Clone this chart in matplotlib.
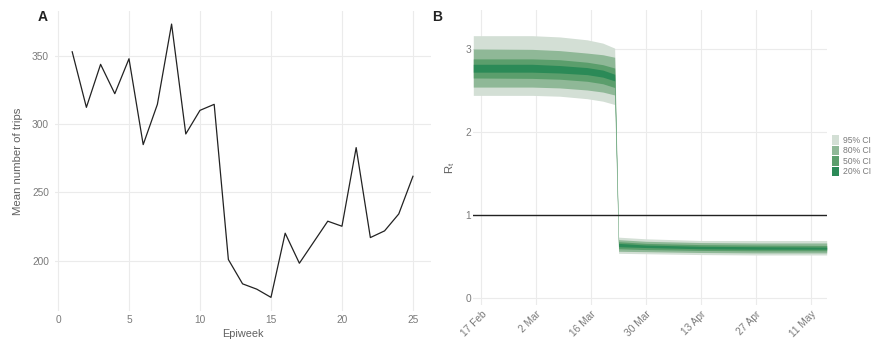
import numpy as np
import pandas as pd
import matplotlib
matplotlib.use("Agg")
import matplotlib.pyplot as plt
import matplotlib.dates as mdates
from matplotlib.patches import Patch

# panel A: mean trips per epiweek
epiweeks = list(range(1, 26))
mean_trips = [352.9, 312.2, 343.7, 322.2, 347.8, 284.9, 314.4, 373.2, 292.7, 310.0,
              314.4, 200.7, 182.9, 179.0, 173.0, 220.0, 198.0, 213.4, 228.8, 225.1,
              282.7, 216.8, 221.7, 234.1, 261.7]

# panel B: Rt credible intervals at read-off dates
rt_dates = ["2020-02-15", "2020-03-01", "2020-03-08", "2020-03-15", "2020-03-19", "2020-03-22",
            "2020-03-23", "2020-03-30", "2020-04-13", "2020-04-27", "2020-05-15"]
ci95_lo = [2.44, 2.44, 2.43, 2.40, 2.37, 2.33, 0.535, 0.53, 0.52, 0.515, 0.515]
ci95_hi = [3.16, 3.16, 3.145, 3.11, 3.07, 3.01, 0.73, 0.71, 0.69, 0.69, 0.69]
ci80_lo = [2.54, 2.54, 2.53, 2.505, 2.48, 2.445, 0.56, 0.555, 0.545, 0.54, 0.54]
ci80_hi = [3.00, 2.995, 2.98, 2.95, 2.93, 2.90, 0.70, 0.68, 0.665, 0.66, 0.66]
ci50_lo = [2.65, 2.645, 2.635, 2.61, 2.58, 2.535, 0.59, 0.58, 0.57, 0.565, 0.565]
ci50_hi = [2.88, 2.88, 2.87, 2.84, 2.81, 2.77, 0.675, 0.655, 0.64, 0.635, 0.63]
ci20_lo = [2.72, 2.72, 2.71, 2.69, 2.66, 2.615, 0.615, 0.605, 0.59, 0.585, 0.585]
ci20_hi = [2.815, 2.815, 2.80, 2.775, 2.745, 2.695, 0.655, 0.635, 0.62, 0.615, 0.61]

ci_labels = ["95% CI", "80% CI", "50% CI", "20% CI"]
ci_colors = ["#d3dfd5", "#8fb897", "#5b9e6c", "#2b8a57"]
date_ticks = ["2020-02-17", "2020-03-02", "2020-03-16", "2020-03-30",
              "2020-04-13", "2020-04-27", "2020-05-11"]

plt.rcParams['font.family'] = ['Liberation Sans', 'DejaVu Sans']
grid_col = "#ebebeb"
text_col = "#7a7a7a"
label_col = "#606060"

fig = plt.figure(figsize=(8.76, 3.44), dpi=100)

# ---- panel A
ax1 = fig.add_axes([0.0628, 0.0959, 0.4292, 0.873])
ax1.plot(epiweeks, mean_trips, color="#222222", lw=0.9, zorder=3)
ax1.set_xlim(-0.21, 26.27)
ax1.set_ylim(163, 383)
ax1.set_xticks([0, 5, 10, 15, 20, 25])
ax1.set_yticks([200, 250, 300, 350])
ax1.set_xlabel("Epiweek", fontsize=7.8, color=label_col, labelpad=3)
ax1.set_ylabel("Mean number of trips", fontsize=8.2, color=label_col, va="center")
ax1.yaxis.set_label_coords(-0.098, 0.5)
ax1.tick_params(axis="y", pad=4.3)
ax1.tick_params(axis="x", pad=3)

# ---- panel B
ax2 = fig.add_axes([0.5403, 0.1134, 0.4034, 0.8576])
d = pd.to_datetime(rt_dates)
bands = [(ci95_lo, ci95_hi), (ci80_lo, ci80_hi), (ci50_lo, ci50_hi), (ci20_lo, ci20_hi)]
for (lo, hi), col in zip(bands, ci_colors):
    ax2.fill_between(d, lo, hi, color=col, lw=0, zorder=2)
ax2.axhline(1, color="#222222", lw=1.0, zorder=3)
ax2.set_xlim(d[0], d[-1])
ax2.set_ylim(-0.088, 3.47)
ax2.set_yticks([0, 1, 2, 3])
ax2.set_xticks(pd.to_datetime(date_ticks))
ax2.xaxis.set_major_formatter(mdates.DateFormatter("%-d %b"))
ax2.tick_params(axis="y", pad=1.5)
ax2.tick_params(axis="x", pad=3)
for lab in ax2.get_xticklabels():
    lab.set_rotation(45)
    lab.set_ha("right")
    lab.set_rotation_mode("anchor")
ax2.set_ylabel("R$_\\mathregular{t}$", fontsize=8.2, color=label_col, va="center")
ax2.yaxis.set_label_coords(-0.067, 0.464)

handles = [Patch(facecolor=c, edgecolor="none") for c in ci_colors]
leg = fig.legend(handles, ci_labels, loc="upper left", bbox_to_anchor=(0.9498, 0.6076),
                 frameon=False, fontsize=6.2, handlelength=0.81, handleheight=1.35,
                 handletextpad=0.47, labelspacing=0.1, borderaxespad=0, borderpad=0)
for t in leg.get_texts():
    t.set_color(text_col)

for ax in (ax1, ax2):
    for s in ax.spines.values():
        s.set_visible(False)
    ax.grid(True, color=grid_col, lw=0.8, zorder=0)
    ax.set_axisbelow(True)
    ax.tick_params(length=0, labelsize=7.3, labelcolor=text_col)

fig.text(0.049, 0.952, "A", fontsize=10, fontweight="bold", color="#222222", ha="center", va="center")
fig.text(0.499, 0.952, "B", fontsize=10, fontweight="bold", color="#222222", ha="center", va="center")

fig.savefig("out.png", dpi=100)
